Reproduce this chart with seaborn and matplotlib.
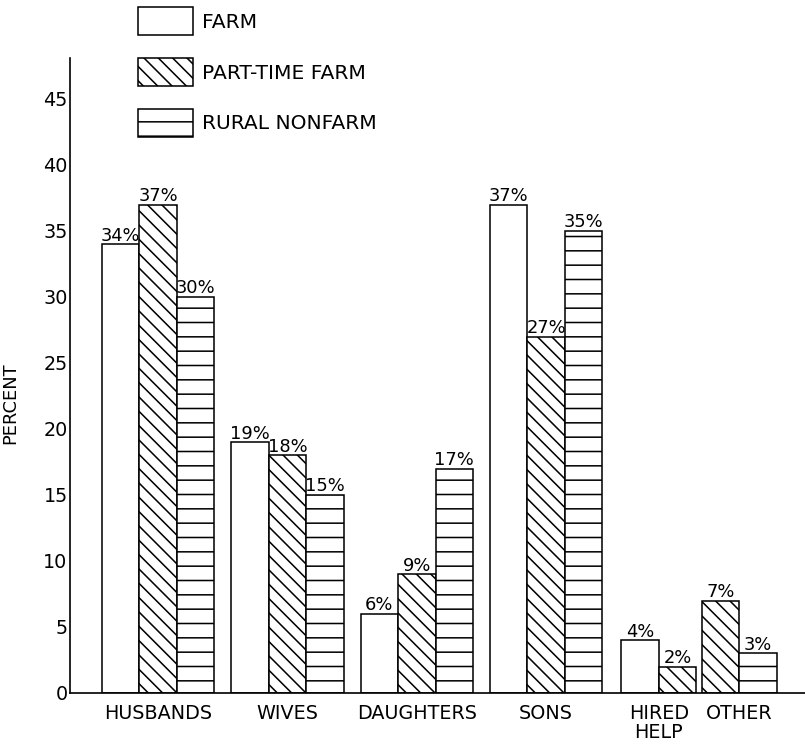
import matplotlib
matplotlib.use("Agg")
import matplotlib.pyplot as plt
from matplotlib.patches import Patch
import pandas as pd
import seaborn as sns

# Share (percent) of each family member, by type of household
members = ["HUSBANDS", "WIVES", "DAUGHTERS", "SONS", "HIRED\nHELP", "OTHER"]
farm = [34, 19, 6, 37, 4, None]
part_time_farm = [37, 18, 9, 27, 2, 7]
rural_nonfarm = [30, 15, 17, 35, None, 3]
series_names = ["FARM", "PART-TIME FARM", "RURAL NONFARM"]
y_ticks = [0, 5, 10, 15, 20, 25, 30, 35, 40, 45]

# layout (x in bar-width units): where each group of bars is centred
group_centers = [2.35, 5.8, 9.25, 12.7, 15.7, 17.85]
hatches = {"FARM": "", "PART-TIME FARM": "\\\\", "RURAL NONFARM": "-"}

DPI = 86
sns.set_style("white")
plt.rcParams["font.family"] = ["DejaVu Sans"]
plt.rcParams["hatch.linewidth"] = 1.3
for key in ["text.color", "axes.labelcolor", "xtick.color", "ytick.color"]:
    plt.rcParams[key] = "black"

# build long table, present bars packed side by side around the group centre
rows = []
tick_pos = []
for i, member in enumerate(members):
    vals = [(s, v) for s, v in zip(series_names, [farm[i], part_time_farm[i], rural_nonfarm[i]]) if v is not None]
    n = len(vals)
    xs = [group_centers[i] + k - (n - 1) / 2 for k in range(n)]
    tick_pos.append(sum(xs) / n)
    for (s, v), x in zip(vals, xs):
        rows.append({"member": member, "series": s, "pct": v, "x": x})
df = pd.DataFrame(rows)

fig = plt.figure(figsize=(805 / DPI, 744 / DPI), dpi=DPI)
ax = fig.add_axes([70 / 805, 1 - 693 / 744, 1 - 70 / 805, (693 - 58) / 744])

sns.barplot(data=df, x="x", y="pct", hue="series", hue_order=series_names,
            palette=["white"] * 3, native_scale=True, dodge=False, width=1.0,
            orient="x", edgecolor="black", linewidth=1.3, errorbar=None,
            legend=False, ax=ax)

for cont, name in zip(ax.containers, series_names):
    for bar in cont:
        bar.set_hatch(hatches[name])

for _, r in df.iterrows():
    ax.annotate(f"{r['pct']}%", (r["x"], r["pct"]), xytext=(0, 3),
                textcoords="offset points", ha="center", va="baseline",
                fontsize=15, color="black")

ax.set_xlim(0, 735 / 37.5)
ax.set_ylim(0, 48.1)
ax.set_yticks(y_ticks)
ax.set_yticklabels([str(t) for t in y_ticks], fontsize=16)
ax.set_xticks(tick_pos)
ax.set_xticklabels(members, fontsize=16, linespacing=1.0)
ax.tick_params(axis="x", length=0, pad=9)
ax.tick_params(axis="y", direction="in", length=5, width=1.2, pad=2)
ax.set_xlabel("")
ax.set_ylabel("PERCENT", fontsize=15)
ax.yaxis.set_label_coords(-0.069, 0.457)

sns.despine(ax=ax)
for side in ["left", "bottom"]:
    ax.spines[side].set_color("black")
    ax.spines[side].set_linewidth(1.4)

handles = [Patch(facecolor="white", edgecolor="black", linewidth=1.3, hatch=hatches[s], label=s)
           for s in series_names]
fig.legend(handles=handles, loc="upper left", bbox_to_anchor=(138 / 805, 1 - 7 / 744),
           bbox_transform=fig.transFigure, frameon=False, fontsize=17,
           handlelength=2.71, handleheight=1.77, labelspacing=1.11,
           handletextpad=0.44, borderpad=0, borderaxespad=0, labelcolor="black")

fig.savefig("out.png", dpi=DPI)
